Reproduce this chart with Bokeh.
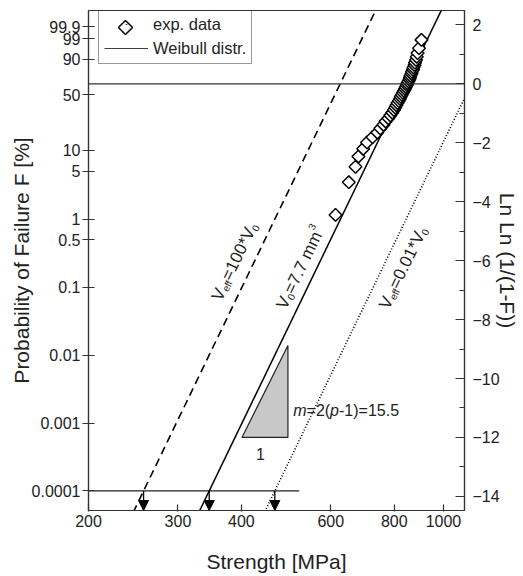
import math
import numpy as np
from bokeh.plotting import figure
from bokeh.models import (LinearAxis, FixedTicker, Span, Label, Arrow, NormalHead,
                          Legend, LegendItem)
from bokeh.embed import file_html
from bokeh.resources import INLINE

# ---------------- data ----------------
strength = [613, 651, 671, 680, 695, 707, 725, 741, 751, 762,
            769, 779, 786, 793, 799, 804, 808, 812, 817, 821,
            824, 828, 832, 836, 840, 843, 847, 849, 853, 857,
            859, 861, 865, 867, 871, 873, 877, 879, 883, 886,
            889, 895, 905]
lnln = [-4.449, -3.338, -2.815, -2.466, -2.202, -1.989, -1.809, -1.652, -1.513, -1.388,
        -1.273, -1.168, -1.069, -0.977, -0.888, -0.805, -0.726, -0.650, -0.575, -0.504,
        -0.434, -0.367, -0.300, -0.235, -0.170, -0.106, -0.043, 0.020, 0.083, 0.147,
        0.211, 0.277, 0.343, 0.412, 0.483, 0.558, 0.636, 0.721, 0.814, 0.920,
        1.046, 1.211, 1.494]

weibull_m = 15.5
sigma0 = [626, 843, 1135]            # Veff=100*V0, V0=7.7 mm3, Veff=0.01*V0
line_dashes = ["8 5", "solid", "1 2"]
line_widths = [1.6, 1.5, 1.6]

prob_ticks = [0.0001, 0.001, 0.01, 0.1, 0.5, 1, 5, 10, 50, 90, 99, 99.9]
prob_labels = ["0.0001", "0.001", "0.01", "0.1", "0.5", "1", "5", "10", "50", "90", "99", "99.9"]
right_ticks = [-14, -12, -10, -8, -6, -4, -2, 0, 2]
right_minor = [-13, -11, -9, -7, -5, -3, -1, 1]
x_ticks = [200, 300, 400, 600, 800, 1000]
x_labels = ["200", "300", "400", "600", "800", "1000"]

F_ref = 0.0001          # % (horizontal reference line)
F_ref_xmax = 520
tri_x = [401, 494, 494]
tri_y = [-12.0, -12.0, -8.88]

FONT = "Liberation Sans"
TXT = "#222222"
XR = (200, 1100)
YR = (-14.48, 2.49)
FW, FH = 376, 500          # frame size in px


def lnln_of(Fpct):
    return math.log(-math.log(1.0 - Fpct / 100.0))


p = figure(width=523, height=576, x_axis_type="log", x_range=XR, y_range=YR,
           output_backend="svg", toolbar_location=None,
           min_border_left=88, min_border_right=59, min_border_top=10, min_border_bottom=66)
p.grid.visible = False
p.outline_line_color = "#333333"
p.outline_line_width = 1.2
p.background_fill_color = "white"
p.border_fill_color = "white"

# left axis: probability
ly = p.yaxis[0]
pos = [lnln_of(f) for f in prob_ticks]
ly.ticker = FixedTicker(ticks=pos, minor_ticks=[])
ly.major_label_overrides = {pp: lab for pp, lab in zip(pos, prob_labels)}
ly.major_tick_in = 6
ly.major_tick_out = 6
ly.major_label_standoff = 2
ly.axis_line_color = "#333333"
ly.axis_line_width = 1.2
ly.major_tick_line_color = "#333333"
ly.major_tick_line_width = 1.2
ly.major_label_text_font = FONT
ly.major_label_text_font_size = "16px"
ly.major_label_text_color = TXT
ly.axis_label = "Probability of Failure F [%]"
ly.axis_label_text_font = FONT
ly.axis_label_text_font_size = "21px"
ly.axis_label_text_font_style = "normal"
ly.axis_label_text_color = TXT
ly.axis_label_standoff = -4

# right axis
ry = LinearAxis(ticker=FixedTicker(ticks=right_ticks, minor_ticks=right_minor))
ry.major_tick_in = 9
ry.major_tick_out = 0
ry.minor_tick_in = 5
ry.minor_tick_out = 0
ry.major_label_standoff = 8
ry.axis_line_color = "#333333"
ry.axis_line_width = 1.2
ry.major_tick_line_color = "#333333"
ry.minor_tick_line_color = "#333333"
ry.major_tick_line_width = 1.2
ry.minor_tick_line_width = 1.2
ry.major_label_text_font = FONT
ry.major_label_text_font_size = "16px"
ry.major_label_text_color = TXT
ry.axis_label = "Ln Ln (1/(1-F))"
ry.axis_label_text_font = FONT
ry.axis_label_text_font_size = "21px"
ry.axis_label_text_font_style = "normal"
ry.axis_label_text_color = TXT
ry.axis_label_standoff = -7
p.add_layout(ry, "right")

# bottom axis
bx = p.xaxis[0]
bx.ticker = FixedTicker(ticks=x_ticks, minor_ticks=[])
bx.major_label_overrides = {t: lab for t, lab in zip(x_ticks, x_labels)}
bx.major_tick_in = 6
bx.major_tick_out = 1
bx.major_label_standoff = 3
bx.axis_line_color = "#333333"
bx.axis_line_width = 1.2
bx.major_tick_line_color = "#333333"
bx.major_tick_line_width = 1.2
bx.major_label_text_font = FONT
bx.major_label_text_font_size = "16px"
bx.major_label_text_color = TXT
bx.axis_label = "Strength [MPa]"
bx.axis_label_text_font = FONT
bx.axis_label_text_font_size = "21px"
bx.axis_label_text_font_style = "normal"
bx.axis_label_text_color = TXT
bx.axis_label_standoff = 20

# reference lines
p.add_layout(Span(location=0, dimension="width", line_color="#333333", line_width=1.2))
y_ref = lnln_of(F_ref)
p.line([XR[0], F_ref_xmax], [y_ref, y_ref], line_color="#222222", line_width=1.2)

# triangle
p.patch(tri_x, tri_y, fill_color="#c8c8c8", line_color="#222222", line_width=1.2)

# Weibull lines
renderers = []
for s0, dash, lw in zip(sigma0, line_dashes, line_widths):
    xs = [XR[0] * 0.9, XR[1] * 1.1]
    ys = [weibull_m * math.log(x / s0) for x in xs]
    r = p.line(xs, ys, line_color="black", line_width=lw, line_dash=dash)
    renderers.append(r)
    xa = s0 * math.exp(y_ref / weibull_m)
    p.add_layout(Arrow(end=NormalHead(size=10, fill_color="black", line_color="black"),
                       x_start=xa, y_start=y_ref, x_end=xa, y_end=YR[0],
                       line_color="black", line_width=1.3))

# data
r_pts = p.scatter(strength, lnln, marker="square", angle=math.pi / 4, size=9,
                  line_color="black", line_width=1.5, fill_color="white")

# legend (transparent background, rotated-square key drawn beneath it)
LEG_LEFT, LEG_TOP, LEG_PAD, ROW_H, LEG_SP, GW = 10, 3, 5, 18, 5, 44
leg_h = 2 * LEG_PAD + 2 * ROW_H + LEG_SP
kx = XR[0] * 10 ** ((LEG_LEFT + LEG_PAD + GW / 2) / FW * math.log10(XR[1] / XR[0]))
ky = YR[1] - (LEG_TOP + LEG_PAD + ROW_H / 2) / FH * (YR[1] - YR[0])
r_key = p.scatter([kx], [ky], marker="square", angle=math.pi / 4, size=10,
                  line_color="black", line_width=1.5, fill_color="white")
legend = Legend(items=[LegendItem(label="exp. data", renderers=[r_pts]),
                       LegendItem(label="Weibull distr.", renderers=[renderers[1]])],
                location=(LEG_LEFT, FH - LEG_TOP - leg_h), margin=0, padding=LEG_PAD,
                spacing=LEG_SP, glyph_width=GW, glyph_height=1, label_height=ROW_H,
                label_standoff=5,
                label_text_font=FONT, label_text_font_size="16.5px", label_text_color=TXT,
                border_line_color="#333333", border_line_width=1.2,
                background_fill_alpha=0.0)
p.add_layout(legend)

# ---------------- composed texts ----------------
W = {" ": .278, "%": .889, "(": .333, ")": .333, "*": .389, "-": .333, ".": .278, "/": .278,
     "=": .584, "F": .611, "L": .556, "P": .667, "V": .667, "[": .278, "]": .278,
     "a": .556, "b": .556, "d": .556, "e": .556, "f": .278, "i": .222, "l": .222, "m": .833,
     "n": .556, "o": .556, "p": .556, "r": .333, "s": .5, "t": .278, "u": .556, "y": .5}


def tw(s, size):
    return sum(W.get(c, 0.556) for c in s) * size


def composed(x, y, pieces, angle):
    d = 0.0
    ca, sa = math.cos(angle), math.sin(angle)
    for text, size, style, h in pieces:
        xo = d * ca + h * sa
        yo = d * sa - h * ca
        p.add_layout(Label(x=x, y=y, x_offset=xo, y_offset=yo,
                           text=text, angle=angle, text_font=FONT,
                           text_font_size=f"{size}px", text_font_style=style,
                           text_color=TXT, text_baseline="alphabetic", text_align="left"))
        d += tw(text, size)


ang = 1.1205
composed(357, -7.32, [("V", 17, "normal", 0), ("eff", 10, "normal", 4),
                      ("=100*V", 17, "normal", 0), ("0", 10, "normal", 4)], ang)
composed(479, -7.6, [("V", 17, "normal", 0), ("0", 10, "normal", 4),
                     ("=7.7 mm", 17, "normal", 0), ("3", 10, "normal", -8)], ang)
composed(763, -7.6, [("V", 17, "normal", 0), ("eff", 10, "normal", 4),
                     ("=0.01*V", 17, "normal", 0), ("0", 10, "normal", 4)], ang)
composed(506, -11.07, [("m", 16, "italic", 0), ("=2(", 16, "normal", 0),
                       ("p", 16, "italic", 0), ("-1)=15.5", 16, "normal", 0)], 0.0)
p.add_layout(Label(x=436, y=-12.57, text="1", text_font=FONT, text_font_size="16px",
                   text_color=TXT, text_align="center", text_baseline="alphabetic"))

open("out.html", "w").write(file_html(p, INLINE))
